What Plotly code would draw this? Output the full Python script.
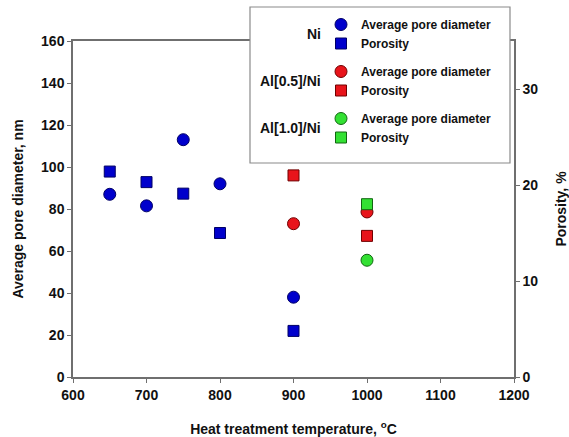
import plotly.graph_objects as go

# Data
ni_temp = [650, 700, 750, 800, 900]
ni_diam = [87, 81.5, 113, 92, 38]
ni_por = [21.4, 20.3, 19.1, 15.0, 4.8]

al05_temp = [900, 1000]
al05_diam = [73, 78.6]
al05_por = [21.0, 14.7]

al10_temp = [1000]
al10_diam = [55.6]
al10_por = [18.0]

x_ticks = [600, 700, 800, 900, 1000, 1100, 1200]
y_ticks = [0, 20, 40, 60, 80, 100, 120, 140, 160]
y2_ticks = [0, 10, 20, 30]

FONT = "Liberation Sans, Arial, sans-serif"
blue, blue_e = "#0000CC", "#000066"
red, red_e = "#E8141B", "#700000"
green, green_e = "#33E033", "#116611"

fig = go.Figure()

def add(x, y, name, group, color, edge, symbol, yaxis, rank, size):
    fig.add_trace(go.Scatter(
        x=x, y=y, mode="markers", name=name, legendgroup=group,
        legendrank=rank, yaxis=yaxis, cliponaxis=False,
        marker=dict(color=color, symbol=symbol, size=size,
                    line=dict(color=edge, width=1)),
    ))

add(ni_temp, ni_diam, "Average pore diameter", "ni", blue, blue_e, "circle", "y", 1, 12)
add(ni_temp, ni_por, "Porosity", "ni", blue, blue_e, "square", "y2", 2, 11)
add(al10_temp, al10_diam, "Average pore diameter", "al10", green, green_e, "circle", "y", 5, 12)
add(al10_temp, al10_por, "Porosity", "al10", green, green_e, "square", "y2", 6, 11)
add(al05_temp, al05_diam, "Average pore diameter", "al05", red, red_e, "circle", "y", 3, 12)
add(al05_temp, al05_por, "Porosity", "al05", red, red_e, "square", "y2", 4, 11)

W, H = 569, 437
ml, mr, mt, mb = 73, 55, 41, 60
pw, ph = W - ml - mr, H - mt - mb

def px(x):
    return (x - ml) / pw

def py(y):
    return (H - mb - y) / ph

axis_common = dict(
    showgrid=False, zeroline=False, showline=True, linecolor="#6f6f6f",
    linewidth=1.5, ticks="outside", ticklen=4, tickcolor="#6f6f6f",
    tickfont=dict(family=FONT, size=14, color="#111", weight="bold"),
)

fig.update_layout(
    width=W, height=H,
    margin=dict(l=ml, r=mr, t=mt, b=mb, autoexpand=False),
    paper_bgcolor="white", plot_bgcolor="white",
    font=dict(family=FONT, color="#111"),
    xaxis=dict(range=[600, 1200], tickvals=x_ticks, mirror=True,
               title=dict(text="Heat treatment temperature, <sup>o</sup>C",
                          font=dict(family=FONT, size=14, weight="bold"), standoff=24),
               **axis_common),
    yaxis=dict(range=[0, 160], tickvals=y_ticks,
               title=dict(text="Average pore diameter, nm",
                          font=dict(family=FONT, size=14, weight="bold"), standoff=14),
               **axis_common),
    yaxis2=dict(range=[0, 35], tickvals=y2_ticks, overlaying="y", side="right",
                title=dict(text="Porosity, %",
                           font=dict(family=FONT, size=14, weight="bold"), standoff=22),
                **axis_common),
    showlegend=True,
    legend=dict(x=px(321), y=py(10), xanchor="left", yanchor="top",
                bgcolor="rgba(0,0,0,0)", borderwidth=0, tracegroupgap=9,
                traceorder="grouped",
                font=dict(family=FONT, size=12, color="#111", weight="bold")),
    shapes=[dict(type="rect", xref="paper", yref="paper",
                 x0=px(250), x1=px(510), y0=py(163), y1=py(7),
                 fillcolor="white", line=dict(color="#8a8a8a", width=1.2),
                 layer="above")],
)

for label, ypix in [("Ni", 34), ("Al[0.5]/Ni", 81), ("Al[1.0]/Ni", 128)]:
    fig.add_annotation(text=label, xref="paper", yref="paper",
                       x=px(323), y=py(ypix), xanchor="right", yanchor="middle",
                       showarrow=False,
                       font=dict(family=FONT, size=14, color="#111", weight="bold"))

fig.write_html("out.html", config={"displayModeBar": False},
               post_script="document.body.style.margin='0px';")
